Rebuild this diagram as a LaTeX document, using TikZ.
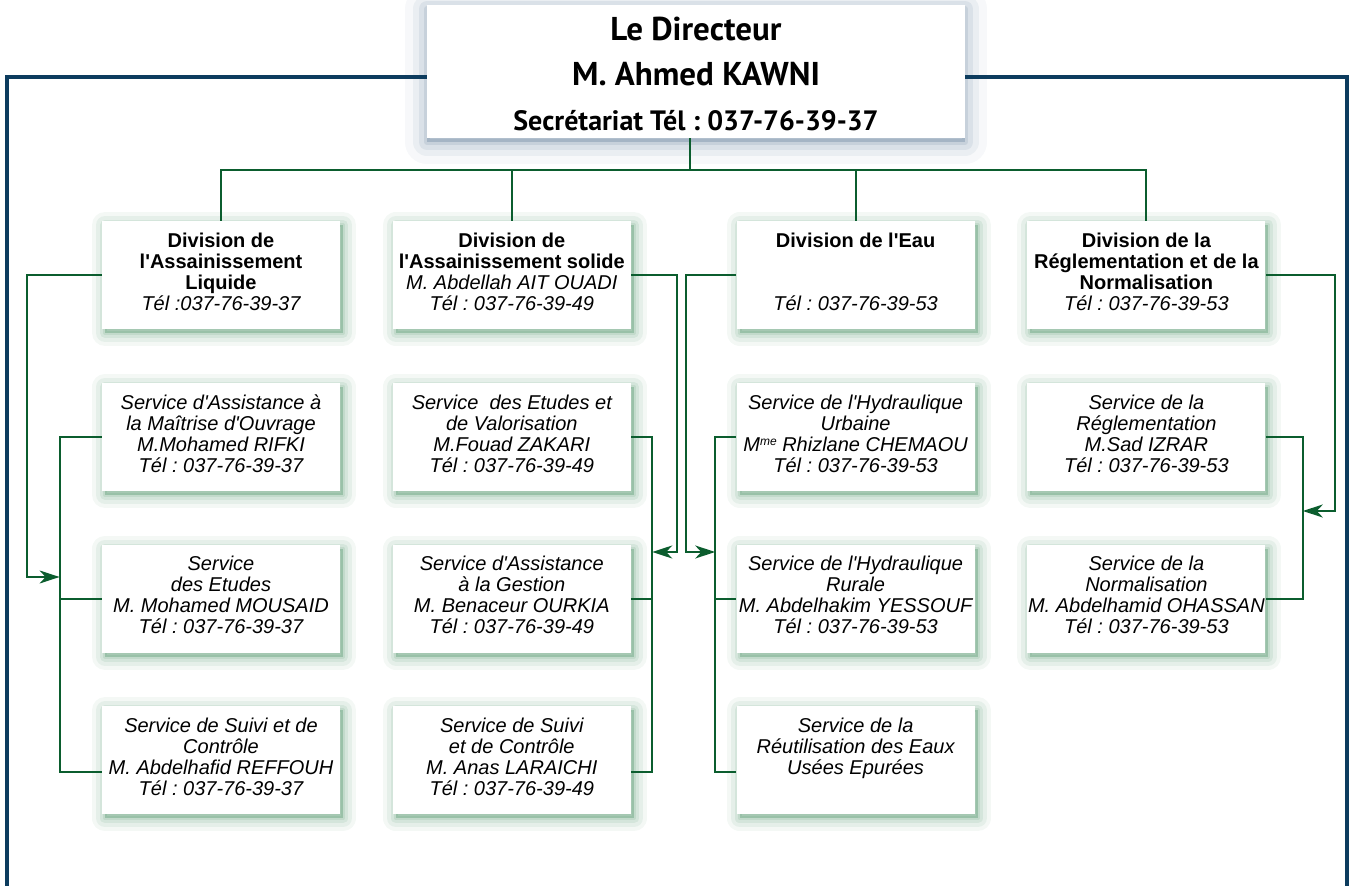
\documentclass[tikz,border=0pt]{standalone}
\usepackage{fontspec}
\setmainfont{Liberation Sans}[Ligatures=TeXOff]
\newfontfamily\headfont{PT Sans}
\usetikzlibrary{arrows.meta,positioning,shadows}
\definecolor{orgblue}{HTML}{0D3C5E}
\definecolor{orggreen}{HTML}{0B5D2E}
\definecolor{orgglow}{HTML}{3F8A5C}
\definecolor{orghaze}{HTML}{6F89A3}
\frenchspacing
\newcommand{\cell}[1]{\begin{minipage}[c][54pt][t]{119pt}\centering\rule{0pt}{13.2pt}#1\end{minipage}}

\begin{document}
\begin{tikzpicture}[
  x=0.5pt,y=-0.5pt,
  node distance=26.5pt and 26pt,
  every node/.style={inner sep=0pt},
  unit/.style={fill=white,font=\fontsize{10}{10.5}\selectfont,
    general shadow={draw=orgglow,fill=orgglow,line width=13pt,line join=round,opacity=.06,shadow xshift=1.5pt,shadow yshift=-2pt},
    general shadow={draw=orgglow,fill=orgglow,line width=9pt,line join=round,opacity=.08,shadow xshift=1.5pt,shadow yshift=-2pt},
    general shadow={draw=orgglow,fill=orgglow,line width=5pt,line join=round,opacity=.10,shadow xshift=1.5pt,shadow yshift=-2pt},
    general shadow={draw=orgglow,fill=orgglow,line width=2pt,line join=round,opacity=.12,shadow xshift=1.5pt,shadow yshift=-2pt}},
  boss/.style={fill=white,
    general shadow={draw=orghaze,fill=orghaze,line width=22pt,line join=round,opacity=.06,shadow yshift=-2pt},
    general shadow={draw=orghaze,fill=orghaze,line width=14pt,line join=round,opacity=.09,shadow yshift=-2pt},
    general shadow={draw=orghaze,fill=orghaze,line width=8pt,line join=round,opacity=.13,shadow yshift=-2pt},
    general shadow={draw=orghaze,fill=orghaze,line width=3pt,line join=round,opacity=.18,shadow yshift=-2pt}},
  link/.style={draw=orggreen,line width=1pt},
  rail/.style={draw=orgblue,line width=1.6pt},
  arrow/.style={-{Stealth[length=10pt,width=6.5pt,inset=3pt]}}
]
\useasboundingbox (0,0) rectangle (1353,886);
\node[boss] (boss) at (696,71.5) {\begin{minipage}[c][66.5pt][t]{269pt}\centering\headfont\bfseries\fontsize{16.5}{22.5}\selectfont
  \rule{0pt}{18pt}Le Directeur\\M. Ahmed KAWNI\\{\fontsize{14}{22.5}\selectfont Secrétariat Tél : 037-76-39-37}\end{minipage}};

\node[unit] (d1) at (221,275) {\cell{{\bfseries Division de\\l'Assainissement\\Liquide}\\\itshape Tél :037-76-39-37}};
\node[unit,right=of d1] (d2) {\cell{{\bfseries Division de\\l'Assainissement solide}\\\itshape M. Abdellah AIT OUADI\\Tél : 037-76-39-49}};
\node[unit,right=52.5pt of d2] (d3) {\cell{{\bfseries Division de l'Eau}\\[21pt]\itshape Tél : 037-76-39-53}};
\node[unit,right=of d3] (d4) {\cell{{\bfseries Division de la\\Réglementation et de la\\Normalisation}\\\itshape Tél : 037-76-39-53}};

\node[unit,below=of d1] (s11) {\cell{\itshape Service d'Assistance à\\la Maîtrise d'Ouvrage\\M.Mohamed RIFKI\\Tél : 037-76-39-37}};
\node[unit,below=of s11] (s12) {\cell{\itshape Service\\des Etudes\\M. Mohamed MOUSAID\\Tél : 037-76-39-37}};
\node[unit,below=of s12] (s13) {\cell{\itshape Service de Suivi et de\\Contrôle\\M. Abdelhafid REFFOUH\\Tél : 037-76-39-37}};
\node[unit,below=of d2] (s21) {\cell{\itshape Service\ \ des Etudes et\\de Valorisation\\M.Fouad ZAKARI\\Tél : 037-76-39-49}};
\node[unit,below=of s21] (s22) {\cell{\itshape Service d'Assistance\\à la Gestion\\M. Benaceur OURKIA\\Tél : 037-76-39-49}};
\node[unit,below=of s22] (s23) {\cell{\itshape Service de Suivi\\et de Contrôle\\M. Anas LARAICHI\\Tél : 037-76-39-49}};
\node[unit,below=of d3] (s31) {\cell{\itshape Service de l'Hydraulique\\Urbaine\\M{\fontsize{6}{6}\selectfont\raisebox{3pt}{me}} Rhizlane CHEMAOU\\Tél : 037-76-39-53}};
\node[unit,below=of s31] (s32) {\cell{\itshape Service de l'Hydraulique\\Rurale\\M. Abdelhakim YESSOUF\\Tél : 037-76-39-53}};
\node[unit,below=of s32] (s33) {\cell{\itshape Service de la\\Réutilisation des Eaux\\Usées Epurées}};
\node[unit,below=of d4] (s41) {\cell{\itshape Service de la\\Réglementation\\M.Sad IZRAR\\Tél : 037-76-39-53}};
\node[unit,below=of s41] (s42) {\cell{\itshape Service de la\\Normalisation\\M. Abdelhamid OHASSAN\\Tél : 037-76-39-53}};

\coordinate (ltop) at (7,77);
\coordinate (lend) at (7,886);
\coordinate (rtop) at (1347,77);
\coordinate (rend) at (1347,886);
\draw[rail] (boss.west |- ltop) -- (ltop) -- (lend);
\draw[rail] (boss.east |- rtop) -- (rtop) -- (rend);

\coordinate (hub) at (690,170);
\draw[link] (hub |- boss.south) -- (hub);
\draw[link] (d1.north) |- (hub) -| (d4.north);
\draw[link] (d2.north) -- (d2.north |- hub);
\draw[link] (d3.north) -- (d3.north |- hub);

\coordinate (bus1) at ([xshift=-21pt]s11.west);
\coordinate (in1) at (27,577);
\draw[link] (s11.west) -- (bus1) |- ([yshift=-6pt]s13.west);
\draw[link] (s12.west) -- (s12.west -| bus1);
\draw[link,arrow] (d1.west) -| (in1) -- (in1 -| bus1);

\coordinate (bus2) at ([xshift=10.5pt]s21.east);
\coordinate (in2) at (677,552);
\draw[link] (s21.east) -- (bus2) |- ([yshift=-6pt]s23.east);
\draw[link] (s22.east) -- (s22.east -| bus2);
\draw[link,arrow] (d2.east) -| (in2) -- (in2 -| bus2);

\coordinate (bus3) at ([xshift=-10.5pt]s31.west);
\coordinate (in3) at (686,552);
\draw[link] (s31.west) -- (bus3) |- ([yshift=-6pt]s33.west);
\draw[link] (s32.west) -- (s32.west -| bus3);
\draw[link,arrow] (d3.west) -| (in3) -- (in3 -| bus3);

\coordinate (bus4) at ([xshift=18.5pt]s41.east);
\coordinate (in4) at (1335,511);
\draw[link] (s41.east) -- (bus4) |- (s42.east);
\draw[link,arrow] (d4.east) -| (in4) -- (in4 -| bus4);
\end{tikzpicture}
\end{document}
